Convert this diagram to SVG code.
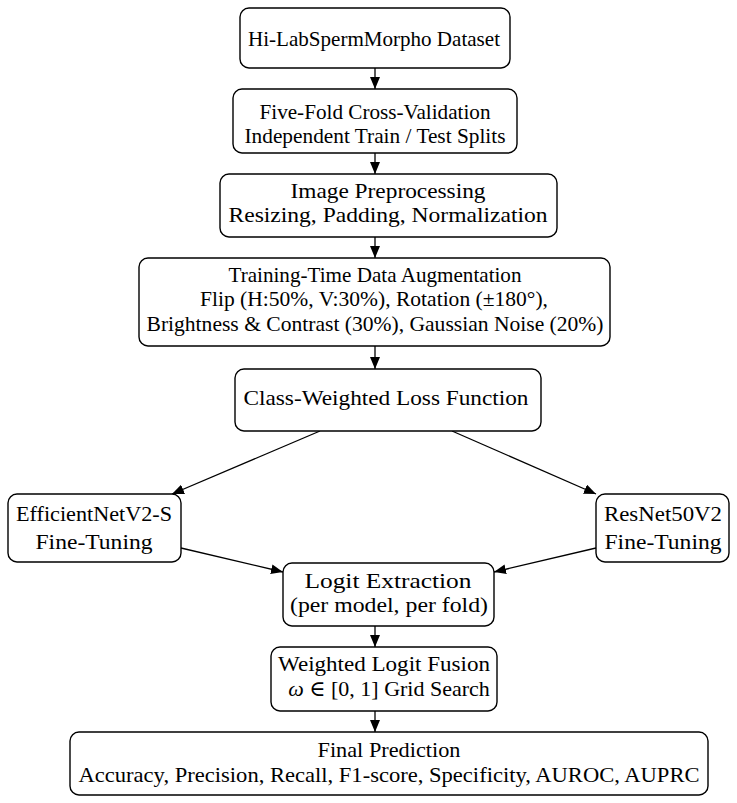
<svg xmlns="http://www.w3.org/2000/svg" width="737" height="803" viewBox="0 0 737 803">
<style>
.box{fill:#fff;stroke:#000;stroke-width:1.4}
text{font-family:"Liberation Serif","DejaVu Serif",serif;font-size:22px;fill:#000;text-anchor:middle}
.con line{stroke:#000;stroke-width:1.3;marker-end:url(#ah)}
</style>
<defs>
<marker id="ah" viewBox="0 0 12 10" refX="12" refY="5" markerWidth="12" markerHeight="10" markerUnits="userSpaceOnUse" orient="auto">
<path d="M0,0 L12,5 L0,10 Z" fill="#000"/>
</marker>
</defs>
<g class="con">
<line x1="375" y1="68" x2="375" y2="89"/>
<line x1="375" y1="153" x2="375" y2="174"/>
<line x1="375" y1="237" x2="375" y2="258"/>
<line x1="375" y1="346" x2="375" y2="369"/>
<line x1="320" y1="431" x2="172" y2="494"/>
<line x1="452" y1="431" x2="596" y2="494"/>
<line x1="181" y1="548" x2="283" y2="572"/>
<line x1="596" y1="548" x2="494" y2="572"/>
<line x1="375" y1="626" x2="375" y2="647"/>
<line x1="375" y1="711" x2="375" y2="732"/>
</g>
<g id="n1"><rect class="box" x="240" y="8" width="270" height="60" rx="9"/><text x="374" y="46" textLength="252" lengthAdjust="spacingAndGlyphs">Hi-LabSpermMorpho Dataset</text></g>
<g id="n2"><rect class="box" x="233" y="89" width="284" height="64" rx="9"/><text x="375" y="119" textLength="231" lengthAdjust="spacingAndGlyphs">Five-Fold Cross-Validation</text><text x="375" y="143" textLength="261" lengthAdjust="spacingAndGlyphs">Independent Train / Test Splits</text></g>
<g id="n3"><rect class="box" x="220" y="174" width="337" height="63" rx="9"/><text x="388" y="198" textLength="195" lengthAdjust="spacingAndGlyphs">Image Preprocessing</text><text x="388" y="222" textLength="319" lengthAdjust="spacingAndGlyphs">Resizing, Padding, Normalization</text></g>
<g id="n4"><rect class="box" x="139" y="258" width="471" height="88" rx="9"/><text x="375" y="282" textLength="293" lengthAdjust="spacingAndGlyphs">Training-Time Data Augmentation</text><text x="374" y="306" textLength="348" lengthAdjust="spacingAndGlyphs">Flip (H:50%, V:30%), Rotation (±180°),</text><text x="375" y="331" textLength="457" lengthAdjust="spacingAndGlyphs">Brightness &amp; Contrast (30%), Gaussian Noise (20%)</text></g>
<g id="n5"><rect class="box" x="235" y="369" width="306" height="62" rx="9"/><text x="386" y="405" textLength="285" lengthAdjust="spacingAndGlyphs">Class-Weighted Loss Function</text></g>
<g id="n6"><rect class="box" x="8" y="494" width="173" height="68" rx="9"/><text x="94" y="521" textLength="156" lengthAdjust="spacingAndGlyphs">EfficientNetV2-S</text><text x="94" y="549" textLength="117" lengthAdjust="spacingAndGlyphs">Fine-Tuning</text></g>
<g id="n7"><rect class="box" x="596" y="494" width="133" height="68" rx="9"/><text x="663" y="521" textLength="118" lengthAdjust="spacingAndGlyphs">ResNet50V2</text><text x="663" y="549" textLength="117" lengthAdjust="spacingAndGlyphs">Fine-Tuning</text></g>
<g id="n8"><rect class="box" x="283" y="563" width="211" height="63" rx="9"/><text x="388" y="588" textLength="167" lengthAdjust="spacingAndGlyphs">Logit Extraction</text><text x="389" y="612" textLength="198" lengthAdjust="spacingAndGlyphs">(per model, per fold)</text></g>
<g id="n9"><rect class="box" x="271" y="647" width="226" height="64" rx="9"/><text x="384" y="671" textLength="212" lengthAdjust="spacingAndGlyphs">Weighted Logit Fusion</text><text x="389" y="696"><tspan font-style="italic">ω</tspan> ∈ [0, 1] Grid Search</text></g>
<g id="n10"><rect class="box" x="70" y="732" width="638" height="63" rx="9"/><text x="389" y="757" textLength="143" lengthAdjust="spacingAndGlyphs">Final Prediction</text><text x="389" y="782" textLength="621" lengthAdjust="spacingAndGlyphs">Accuracy, Precision, Recall, F1-score, Specificity, AUROC, AUPRC</text></g>
</svg>
